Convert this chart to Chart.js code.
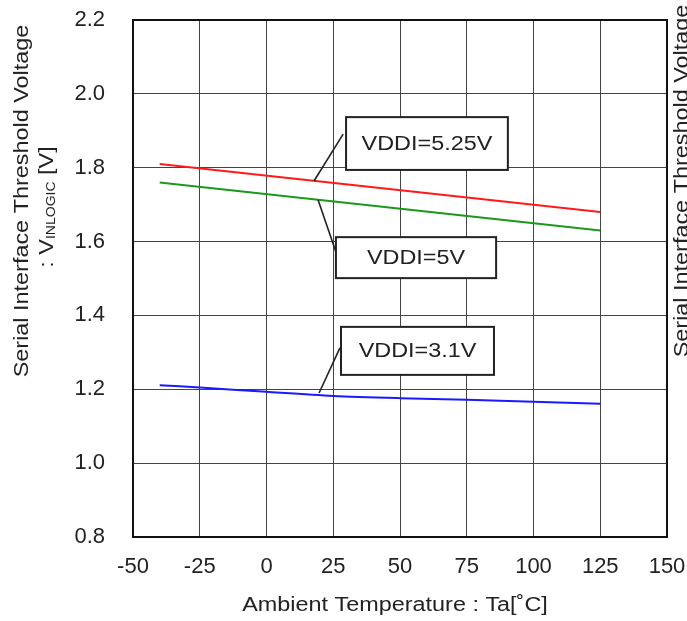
<!DOCTYPE html>
<html>
<head>
<meta charset="utf-8">
<script src="https://cdn.jsdelivr.net/npm/chart.js@4.4.1/dist/chart.umd.min.js"></script>
<style>
  body { margin: 0; background: #fff; }
  canvas { display: block; }
</style>
</head>
<body>
<canvas id="grafico" width="687" height="621"></canvas>
<script>
// datos
const tempLineal = [-40, 125];
const vddi525 = [1.81, 1.68];
const vddi500 = [1.76, 1.63];
const tempAzul = [-40, -25, 0, 25, 50, 75, 100, 125];
const vddi310 = [1.211, 1.205, 1.193, 1.182, 1.176, 1.172, 1.166, 1.161];
const ticksX = [-50, -25, 0, 25, 50, 75, 100, 125, 150];
const ticksY = [0.8, 1.0, 1.2, 1.4, 1.6, 1.8, 2.0, 2.2];
const etiquetas = ['VDDI=5.25V', 'VDDI=5V', 'VDDI=3.1V'];

const FUENTE = '"Liberation Sans", Arial, sans-serif';
const ESTIRAR = 1.17;

function puntos(xs, ys) {
    return xs.map((x, i) => ({ x: x, y: ys[i] }));
}

// cajas de texto con linea guia (en coordenadas de datos)
const cajas = [
    { texto: etiquetas[0], x0: 29.8, x1: 90.4, y0: 1.937, y1: 1.794, guia: [[28.7, 1.891], [17.8, 1.764]] },
    { texto: etiquetas[1], x0: 26.0, x1: 86.0, y0: 1.612, y1: 1.501, guia: [[19.3, 1.713], [26.0, 1.572]] },
    { texto: etiquetas[2], x0: 27.9, x1: 85.2, y0: 1.369, y1: 1.239, guia: [[27.5, 1.312], [19.7, 1.190]] }
];

function textoAncho(ctx, partes, size) {
    let w = 0;
    partes.forEach(p => {
        ctx.font = (p.sub ? 12 : size) + 'px ' + FUENTE;
        w += ctx.measureText(p.t).width;
    });
    return w;
}

// dibuja texto (con subindices) centrado en 0,0 del contexto actual
function dibujarPartes(ctx, partes, size) {
    const w = textoAncho(ctx, partes, size);
    let x = -w / 2;
    ctx.textAlign = 'left';
    ctx.textBaseline = 'middle';
    partes.forEach(p => {
        ctx.font = (p.sub ? 12 : size) + 'px ' + FUENTE;
        ctx.fillText(p.t, x, p.sub ? 5 : 0);
        x += ctx.measureText(p.t).width;
    });
}

function textoRotado(ctx, partes, cx, cy, size) {
    ctx.save();
    ctx.translate(cx, cy);
    ctx.rotate(-Math.PI / 2);
    ctx.scale(ESTIRAR, 1);
    dibujarPartes(ctx, partes, size);
    ctx.restore();
}

function textoPlano(ctx, partes, cx, cy, size) {
    ctx.save();
    ctx.translate(cx, cy);
    ctx.scale(ESTIRAR, 1);
    dibujarPartes(ctx, partes, size);
    ctx.restore();
}

const pluginExtras = {
    id: 'extras',
    afterDraw(chart) {
        const ctx = chart.ctx;
        const sx = chart.scales.x;
        const sy = chart.scales.y;
        const area = chart.chartArea;
        ctx.save();
        ctx.fillStyle = '#222';

        // marco
        ctx.strokeStyle = '#111';
        ctx.lineWidth = 2;
        ctx.strokeRect(area.left, area.top, area.right - area.left, area.bottom - area.top);

        // cajas
        cajas.forEach(c => {
            const l = sx.getPixelForValue(c.x0);
            const r = sx.getPixelForValue(c.x1);
            const t = sy.getPixelForValue(c.y0);
            const b = sy.getPixelForValue(c.y1);
            ctx.fillStyle = '#fff';
            ctx.fillRect(l, t, r - l, b - t);
            ctx.strokeStyle = '#222';
            ctx.lineWidth = 2;
            ctx.strokeRect(l, t, r - l, b - t);
            ctx.lineWidth = 1.6;
            ctx.beginPath();
            ctx.moveTo(sx.getPixelForValue(c.guia[0][0]), sy.getPixelForValue(c.guia[0][1]));
            ctx.lineTo(sx.getPixelForValue(c.guia[1][0]), sy.getPixelForValue(c.guia[1][1]));
            ctx.stroke();
            ctx.fillStyle = '#222';
            textoPlano(ctx, [{ t: c.texto }], (l + r) / 2, (t + b) / 2 + 1, 20);
        });

        // titulos de ejes
        ctx.fillStyle = '#222';
        textoRotado(ctx, [{ t: 'Serial Interface Threshold Voltage' }], 22, 201, 20);
        textoRotado(ctx, [{ t: ': V' }, { t: 'INLOGIC', sub: true }, { t: ' [V]' }], 47, 207, 20);
        textoRotado(ctx, [{ t: 'Serial Interface Threshold Voltage' }], 682, 181, 20);
        textoPlano(ctx, [{ t: 'Ambient Temperature : Ta[˚C]' }], 395, 605, 20);
        ctx.restore();
    }
};

const ctx = document.getElementById('grafico').getContext('2d');

new Chart(ctx, {
    type: 'line',
    data: {
        datasets: [
            { label: etiquetas[0], data: puntos(tempLineal, vddi525), borderColor: '#ff1a1a', borderWidth: 2, pointRadius: 0 },
            { label: etiquetas[1], data: puntos(tempLineal, vddi500), borderColor: '#1a9a1a', borderWidth: 2, pointRadius: 0 },
            { label: etiquetas[2], data: puntos(tempAzul, vddi310), borderColor: '#1a1aff', borderWidth: 2, pointRadius: 0, tension: 0.3 }
        ]
    },
    options: {
        responsive: false,
        animation: false,
        layout: { padding: { top: 20, right: 20, left: 0, bottom: 0 } },
        plugins: {
            legend: { display: false },
            tooltip: { enabled: false }
        },
        scales: {
            x: {
                type: 'linear',
                min: ticksX[0],
                max: ticksX[ticksX.length - 1],
                afterBuildTicks: s => { s.ticks = ticksX.map(v => ({ value: v })); },
                afterFit: s => { s.height = 84; s.paddingLeft = 0; s.paddingRight = 0; },
                grid: { color: '#444', lineWidth: 1, drawTicks: false },
                border: { color: '#111', width: 2 },
                ticks: {
                    padding: 17,
                    color: '#222',
                    font: { family: FUENTE, size: 22 },
                    maxRotation: 0,
                    callback: v => v
                }
            },
            y: {
                min: ticksY[0],
                max: ticksY[ticksY.length - 1],
                afterBuildTicks: s => { s.ticks = ticksY.map(v => ({ value: v })); },
                afterFit: s => { s.width = 133; s.paddingTop = 0; s.paddingBottom = 0; },
                grid: { color: '#444', lineWidth: 1, drawTicks: false },
                border: { color: '#111', width: 2 },
                ticks: {
                    padding: 28,
                    color: '#222',
                    font: { family: FUENTE, size: 22 },
                    callback: v => v.toFixed(1)
                }
            }
        }
    },
    plugins: [pluginExtras]
});
</script>
</body>
</html>
